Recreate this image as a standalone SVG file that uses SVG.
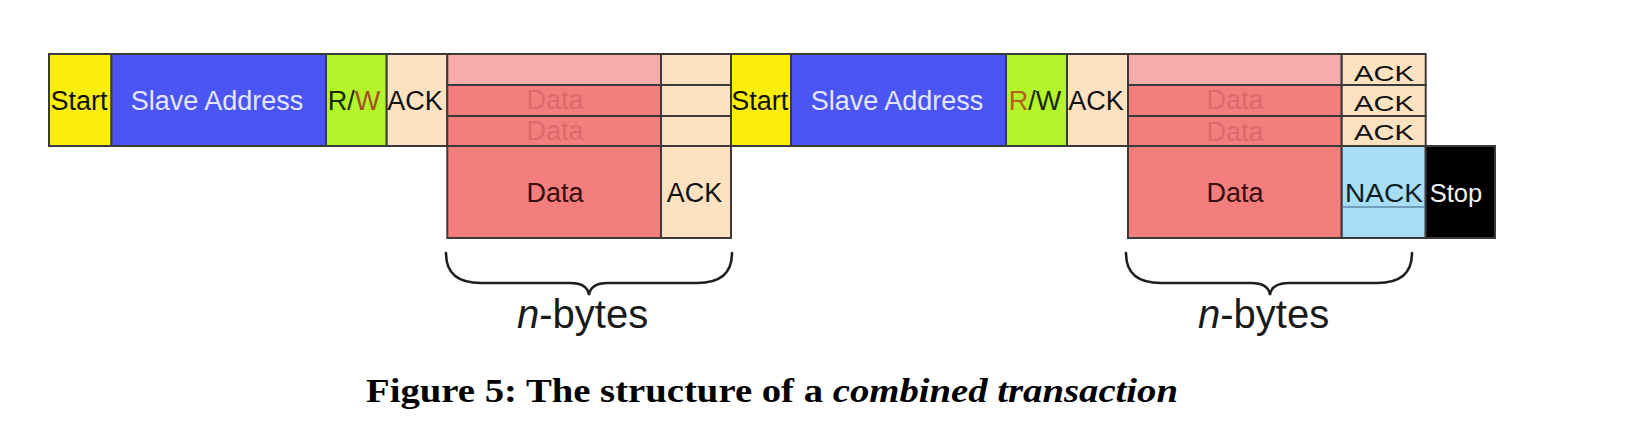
<svg xmlns="http://www.w3.org/2000/svg" width="1637" height="434" viewBox="0 0 1637 434">
<style>
.b{stroke:#3a3a3a;stroke-width:2}
.t{font-family:"Liberation Sans",Arial,sans-serif;font-size:27px;fill:#111;text-anchor:middle}
.y{fill:#fcee0b}
.bl{fill:#4a55f4}
.g{fill:#b3f42b}
.k{fill:#fde2c1}
.p{fill:#f7abab}
.r{fill:#f47e7e}
.lb{fill:#a7def5}
.fd{fill:#dc6b6b}
.dk{fill:#3a0d0d}
.br{fill:none;stroke:#1e1e1e;stroke-width:2.6;stroke-linecap:round}
.nb{font-family:"Liberation Sans",Arial,sans-serif;font-size:40px;fill:#1a1a1a}
</style>
<rect width="1637" height="434" fill="#fff"/>
<g id="start1">
<rect x="49" y="54" width="62.5" height="92" class="y b"/>
<text x="79" y="110" class="t">Start</text>
</g>
<g id="slave1">
<rect x="111.5" y="54" width="214.5" height="92" class="bl b"/>
<text x="217" y="110" class="t" style="fill:#e4e6ff">Slave Address</text>
</g>
<g id="rw1">
<rect x="326" y="54" width="60.7" height="92" class="g b"/>
<text x="354" y="110" class="t"><tspan fill="#1b2a05">R/</tspan><tspan fill="#a3501c">W</tspan></text>
</g>
<g id="ack1">
<rect x="386.7" y="54" width="60.6" height="92" class="k b"/>
<text x="415" y="110" class="t">ACK</text>
</g>
<g id="data1">
<rect x="447.3" y="54" width="213.7" height="31" class="p b"/>
<rect x="447.3" y="85" width="213.7" height="31" class="r b"/>
<rect x="447.3" y="116" width="213.7" height="30" class="r b"/>
<text x="555" y="108.5" class="t fd">Data</text>
<text x="555" y="140" class="t fd">Data</text>
<rect x="447.3" y="146" width="213.7" height="92" class="r b"/>
<text x="555" y="201.7" class="t dk">Data</text>
</g>
<g id="ackcol1">
<rect x="661" y="54" width="70" height="31" class="k b"/>
<rect x="661" y="85" width="70" height="31" class="k b"/>
<rect x="661" y="116" width="70" height="30" class="k b"/>
<rect x="661" y="146" width="70" height="92" class="k b"/>
<text x="694.5" y="201.7" class="t">ACK</text>
</g>
<g id="start2">
<rect x="731" y="54" width="60" height="92" class="y b"/>
<text x="759.7" y="110" class="t">Start</text>
</g>
<g id="slave2">
<rect x="791" y="54" width="215" height="92" class="bl b"/>
<text x="897" y="110" class="t" style="fill:#e4e6ff">Slave Address</text>
</g>
<g id="rw2">
<rect x="1006" y="54" width="61" height="92" class="g b"/>
<text x="1035" y="110" class="t"><tspan fill="#b5601a">R</tspan><tspan fill="#1b2a05">/W</tspan></text>
</g>
<g id="ack2">
<rect x="1067" y="54" width="61" height="92" class="k b"/>
<text x="1096" y="110" class="t">ACK</text>
</g>
<g id="data2">
<rect x="1128" y="54" width="213.7" height="31" class="p b"/>
<rect x="1128" y="85" width="213.7" height="31" class="r b"/>
<rect x="1128" y="116" width="213.7" height="30" class="r b"/>
<text x="1235" y="109" class="t fd">Data</text>
<text x="1235" y="140.5" class="t fd">Data</text>
<rect x="1128" y="146" width="213.7" height="92" class="r b"/>
<text x="1235" y="201.7" class="t dk">Data</text>
</g>
<g id="ackcol2">
<rect x="1341.7" y="54" width="84" height="31" class="k b"/>
<rect x="1341.7" y="85" width="84" height="31" class="k b"/>
<rect x="1341.7" y="116" width="84" height="30" class="k b"/>
<text class="t" transform="translate(1384,81) scale(1.08,0.82)">ACK</text>
<text class="t" transform="translate(1384,110.5) scale(1.08,0.82)">ACK</text>
<text class="t" transform="translate(1384,140) scale(1.08,0.82)">ACK</text>
</g>
<g id="nack">
<rect x="1341.7" y="146" width="84" height="92" class="lb b"/>
<line x1="1342.7" y1="207" x2="1424.7" y2="207" stroke="#5c8aa6" stroke-width="1.5"/>
<text class="t" style="fill:#0d1d28" transform="translate(1384,202.3) scale(1.04,0.97)">NACK</text>
</g>
<g id="stop">
<rect x="1425.7" y="146" width="69.3" height="92" fill="#000" class="b" stroke="#000"/>
<text x="1456" y="202" class="t" style="fill:#f2f2f2;font-size:25.5px">Stop</text>
</g>
<g id="connectors">
<path class="br" d="M446,253 C446,274 458,283 481,283 L570,283 C582,283 588,287 589,295 C590,287 596,283 608,283 L697,283 C720,283 732,274 732,253"/>
<path class="br" d="M1126,253 C1126,274 1138,283 1161,283 L1251,283 C1263,283 1269,287 1270,295 C1271,287 1277,283 1289,283 L1377,283 C1400,283 1412,274 1412,253"/>
</g>
<g id="label1">
<text x="517" y="328" class="nb"><tspan font-style="italic">n</tspan>-bytes</text>
</g>
<g id="label2">
<text x="1198" y="328" class="nb"><tspan font-style="italic">n</tspan>-bytes</text>
</g>
<g id="caption">
<text x="366" y="402" textLength="812" lengthAdjust="spacingAndGlyphs" style="font-family:'Liberation Serif','Times New Roman',serif;font-size:34px;font-weight:bold;fill:#000">Figure 5: The structure of a <tspan font-style="italic">combined transaction</tspan></text>
</g>
</svg>
